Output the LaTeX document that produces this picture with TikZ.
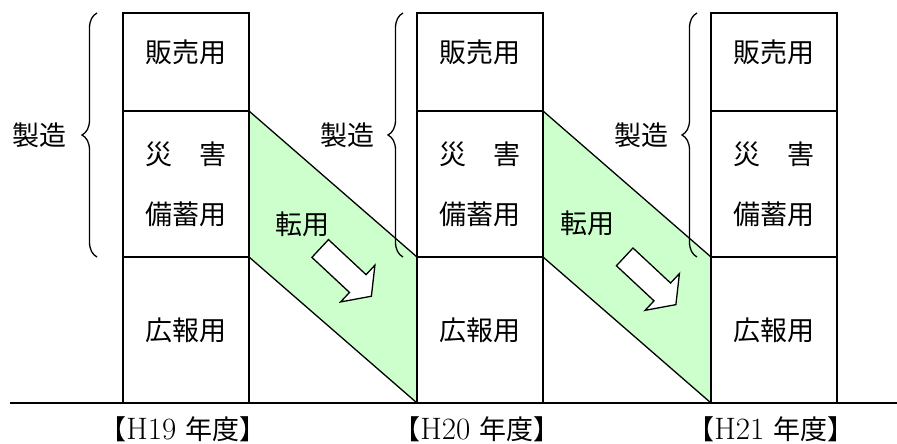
\documentclass[tikz,border=0pt]{standalone}
\usepackage{fontspec}
\newfontfamily\jp{Noto Sans CJK JP}
\usetikzlibrary{positioning,shapes.arrows,decorations.pathreplacing}
\definecolor{transfergreen}{RGB}{204,255,204}

\tikzset{
	cell/.style={draw, line width=1.6pt, minimum width=126pt, outer sep=0pt, inner sep=0pt,
		align=center, font=\jp\fontsize{27pt}{60pt}\selectfont},
	jplabel/.style={inner sep=0pt, font=\jp\fontsize{27pt}{32pt}\selectfont},
	yearlabel/.style={inner sep=0pt, font=\fontsize{31pt}{34pt}\selectfont},
	bracket/.style={decorate, decoration={brace, amplitude=15pt}, line width=1.3pt},
	hollowarrow/.style={single arrow, draw, fill=white, line width=1.3pt, inner xsep=0pt,
		inner ysep=11.5pt, minimum height=70pt, minimum width=49pt,
		single arrow head extend=13pt, single arrow tip angle=107},
}

\begin{document}
\begin{tikzpicture}[x=1pt, y=1pt]
		\useasboundingbox (0,0) rectangle (897,444);
		% Define columns
		\node[cell, minimum height=98pt, text depth=21pt] (sale1) at (186,382) {販売用};
		\node[cell, minimum height=146pt, below=0pt of sale1] (stock1) {災\quad 害\\備蓄用};
		\node[cell, minimum height=146pt, below=0pt of stock1] (pr1) {広報用};
		\node[cell, minimum height=98pt, text depth=21pt, right=168pt of sale1] (sale2) {販売用};
		\node[cell, minimum height=146pt, below=0pt of sale2] (stock2) {災\quad 害\\備蓄用};
		\node[cell, minimum height=146pt, below=0pt of stock2] (pr2) {広報用};
		\node[cell, minimum height=98pt, text depth=21pt, right=168pt of sale2] (sale3) {販売用};
		\node[cell, minimum height=146pt, below=0pt of sale3] (stock3) {災\quad 害\\備蓄用};
		\node[cell, minimum height=146pt, below=0pt of stock3] (pr3) {広報用};
		
		% Transfer bands
		\fill[transfergreen] (stock1.north east) -- (pr2.north west) -- (pr2.south west) -- (stock1.south east) -- cycle;
		\fill[transfergreen] (stock2.north east) -- (pr3.north west) -- (pr3.south west) -- (stock2.south east) -- cycle;
		\draw[line width=1.3pt] (stock1.north east) -- (pr2.north west);
		\draw[line width=1.3pt] (stock1.south east) -- (pr2.south west);
		\draw[line width=1.3pt] (stock2.north east) -- (pr3.north west);
		\draw[line width=1.3pt] (stock2.south east) -- (pr3.south west);
		\node[hollowarrow, rotate=-43] (shift1) at (342.5,174.7) {};
		\node[hollowarrow, rotate=-43] (shift2) at (647,166.3) {};
		\node[jplabel] (use1) at (302.5,220) {転用};
		\node[jplabel] (use2) at (587.5,221) {転用};
		
		% Redraw boxes over the bands
		\foreach \c in {1,2,3} {
			\draw[line width=1.6pt] (sale\c.north west) rectangle (pr\c.south east);
			\draw[line width=1.6pt] (stock\c.north west) -- (stock\c.north east);
			\draw[line width=1.6pt] (stock\c.south west) -- (stock\c.south east);
		}
		
		% Braces
		\draw[bracket] ([xshift=-26pt]stock1.south west) -- ([xshift=-26pt]sale1.north west)
			node[jplabel, midway, left=30pt] (make1) {製造};
		\draw[bracket] ([xshift=-14pt]stock2.south west) -- ([xshift=-14pt]sale2.north west)
			node[jplabel, midway, left=28pt] (make2) {製造};
		\draw[bracket] ([xshift=-14pt]stock3.south west) -- ([xshift=-14pt]sale3.north west)
			node[jplabel, midway, left=28pt] (make3) {製造};
		
		% Base line and years
		\coordinate (baseL) at (10,41);
		\coordinate (baseR) at (897,41);
		\draw[line width=1.6pt] (baseL) -- (baseR);
		\node[yearlabel, below=13pt of pr1, xshift=-3pt] (year1) {{\jp\fontsize{27pt}{34pt}\selectfont 【}H19 {\jp\fontsize{27pt}{34pt}\selectfont 年度】}};
		\node[yearlabel, below=13pt of pr2, xshift=-3pt] (year2) {{\jp\fontsize{27pt}{34pt}\selectfont 【}H20 {\jp\fontsize{27pt}{34pt}\selectfont 年度】}};
		\node[yearlabel, below=13pt of pr3, xshift=-3pt] (year3) {{\jp\fontsize{27pt}{34pt}\selectfont 【}H21 {\jp\fontsize{27pt}{34pt}\selectfont 年度】}};
	\end{tikzpicture}
\end{document}
